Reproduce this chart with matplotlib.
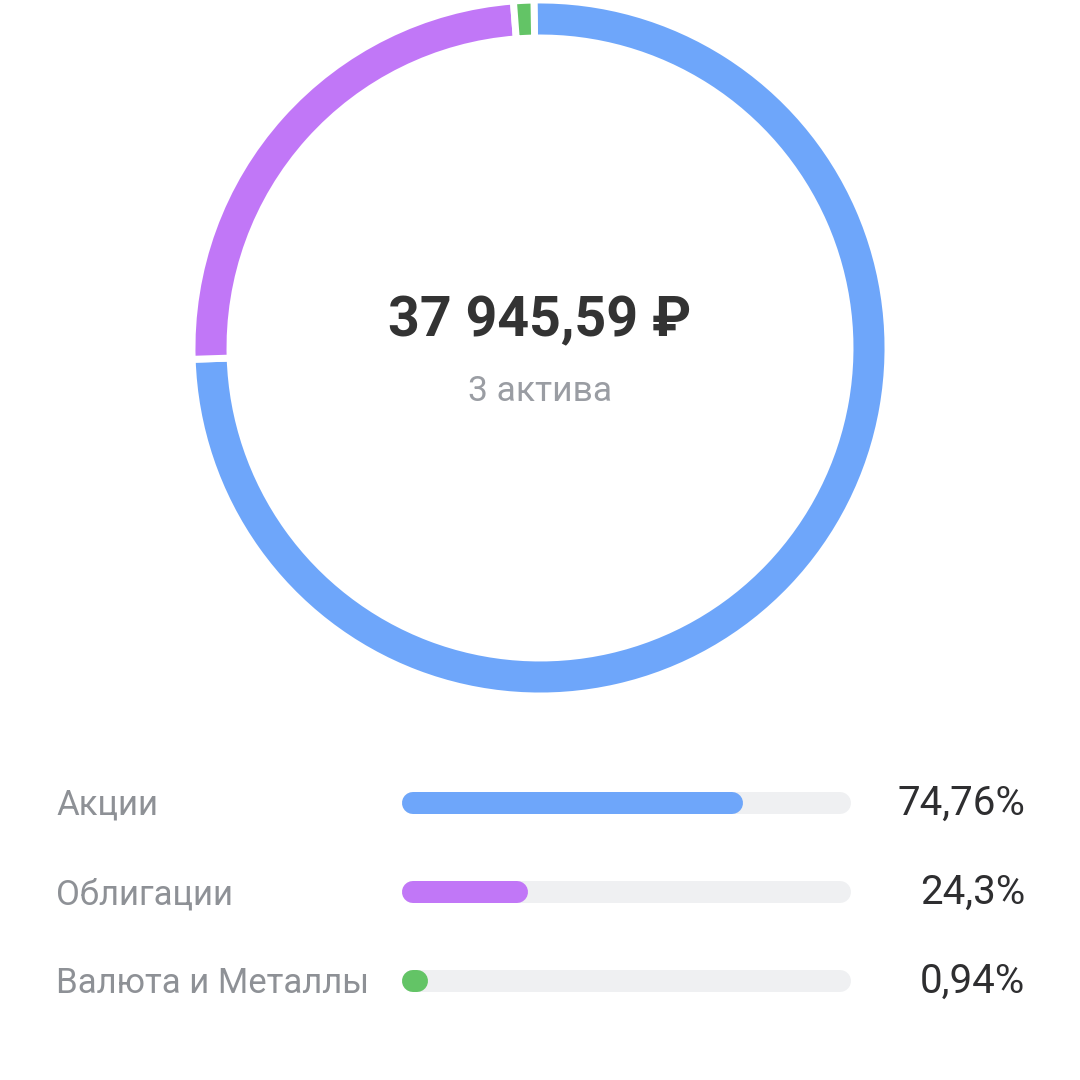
import matplotlib.pyplot as plt

# portfolio structure
categories = ['Акции', 'Облигации', 'Валюта и Металлы']
shares = [74.76, 24.3, 0.94]
share_labels = ['74,76%', '24,3%', '0,94%']
colors = ['#6ea6fa', '#c177f7', '#63c466']
total_label = '37 945,59 ₽'
count_label = '3 актива'

plt.rcParams['font.family'] = ['Roboto', 'DejaVu Sans']

fig = plt.figure(figsize=(10.8, 10.8), dpi=100)
ax = fig.add_axes([0, 0, 1, 1])

# donut: pixel-like coords, y axis inverted, so start=-90 / ccw means top / clockwise on screen
ax.pie(shares, colors=colors, radius=348, center=(540, 348), startangle=-91,
       counterclock=True,
       wedgeprops=dict(width=38, edgecolor='white', linewidth=5))

ax.text(540, 336, total_label, ha='center', va='baseline', fontsize=40,
        fontweight='bold', color='#333333')
ax.text(540, 401, count_label, ha='center', va='baseline', fontsize=25.5,
        color='#9a9da3')

# progress bars
x0, x1 = 413, 840
bar_lw = 22 * 0.72
for i, (name, val, lab, c) in enumerate(zip(categories, shares, share_labels, colors)):
    yc = 803 + i * 89
    ax.plot([x0, x1], [yc, yc], color='#eff0f2', lw=bar_lw, solid_capstyle='round')
    ax.plot([x0, x0 + val / 100 * (x1 - x0)], [yc, yc], color=c, lw=bar_lw,
            solid_capstyle='round')
    ax.text(56, yc + 12, name, ha='left', va='baseline', fontsize=25, color='#8e9196')
    ax.text(1025, yc + 12, lab, ha='right', va='baseline', fontsize=29,
            color='#2e2e30')

ax.set_xlim(0, 1080)
ax.set_ylim(1080, 0)
ax.set_aspect('auto')
ax.axis('off')

fig.savefig('out.png', dpi=100, facecolor='white')
